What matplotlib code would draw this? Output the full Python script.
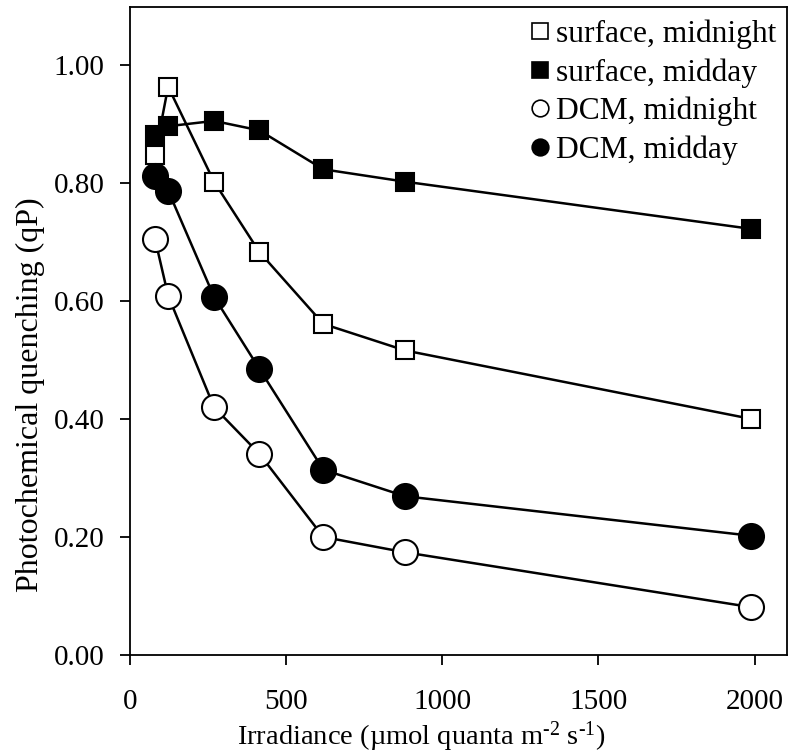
import matplotlib
matplotlib.use("Agg")
import matplotlib.pyplot as plt
from matplotlib.lines import Line2D

plt.rcParams['font.family'] = ['Liberation Serif', 'DejaVu Serif']
plt.rcParams['mathtext.fontset'] = 'custom'
plt.rcParams['mathtext.rm'] = 'Liberation Serif'
plt.rcParams['mathtext.it'] = 'Liberation Serif:italic'
plt.rcParams['mathtext.default'] = 'regular'

# Irradiance steps (umol quanta m-2 s-1)
irradiance = [80, 122, 269, 414, 619, 881, 1990]

# Photochemical quenching per sample
surface_midnight = [0.847, 0.963, 0.802, 0.683, 0.561, 0.516, 0.400]
surface_midday = [0.881, 0.896, 0.905, 0.889, 0.823, 0.802, 0.722]
dcm_midnight = [0.705, 0.609, 0.420, 0.341, 0.200, 0.174, 0.081]
dcm_midday = [0.812, 0.787, 0.607, 0.485, 0.314, 0.269, 0.202]

labels = ["surface, midnight", "surface, midday", "DCM, midnight", "DCM, midday"]
x_ticks = [0, 500, 1000, 1500, 2000]
y_ticks = [0.0, 0.2, 0.4, 0.6, 0.8, 1.0]

fig = plt.figure(figsize=(7.89, 7.54), dpi=100)
ax = fig.add_axes([0.1648, 0.1313, 0.8327, 0.8594])

lw = 1.8
mew = 1.5
sq = 13.5
ci = 18

ax.plot(irradiance, surface_midday, '-', color='black', lw=lw, marker='s', ms=sq,
        mfc='black', mec='black', mew=mew, zorder=2)
ax.plot(irradiance, surface_midnight, '-', color='black', lw=lw, marker='s', ms=sq,
        mfc='white', mec='black', mew=mew, zorder=3)
ax.plot(irradiance, dcm_midday, '-', color='black', lw=lw, marker='o', ms=ci,
        mfc='black', mec='black', mew=mew, zorder=4)
ax.plot(irradiance, dcm_midnight, '-', color='black', lw=lw, marker='o', ms=ci,
        mfc='white', mec='black', mew=mew, zorder=5)

ax.set_xlim(0, 2104)
ax.set_ylim(0, 1.098)
ax.set_xticks(x_ticks)
ax.set_xticklabels([str(v) for v in x_ticks])
ax.set_yticks(y_ticks)
ax.set_yticklabels([f"{v:.2f}" for v in y_ticks])

for s in ax.spines.values():
    s.set_linewidth(1.3)
ax.tick_params(axis='both', direction='out', length=7.5, width=1.3, labelsize=21)
ax.tick_params(axis='x', pad=17)
ax.tick_params(axis='y', pad=11)

ax.set_xlabel("Irradiance (\u00b5mol quanta m$^{\u20102}$ s$^{\u20101}$)", fontsize=20.5)
ax.xaxis.set_label_coords(0.443, -0.100)
ax.set_ylabel("Photochemical quenching (qP)", fontsize=23)
ax.yaxis.set_label_coords(-0.129, 0.401)

handles = [
    Line2D([], [], ls='none', marker='s', ms=12, mfc='white', mec='black', mew=1.2),
    Line2D([], [], ls='none', marker='s', ms=12, mfc='black', mec='black', mew=1.2),
    Line2D([], [], ls='none', marker='o', ms=12, mfc='white', mec='black', mew=1.2),
    Line2D([], [], ls='none', marker='o', ms=12, mfc='black', mec='black', mew=1.2),
]
ax.legend(handles, labels, loc='upper right', frameon=False, fontsize=22.7,
          handlelength=0.6, handletextpad=0.2, labelspacing=0.29,
          borderaxespad=0.0, bbox_to_anchor=(1.003, 1.0))

fig.savefig("out.png", dpi=100)
